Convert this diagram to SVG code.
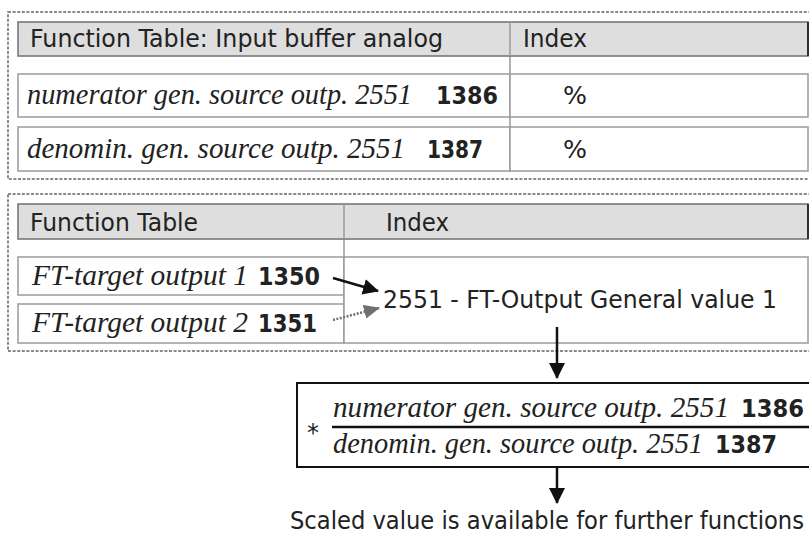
<svg xmlns="http://www.w3.org/2000/svg" width="809" height="537" viewBox="0 0 809 537">
<style>
.dot{fill:none;stroke:#8a8a8a;stroke-width:2;stroke-dasharray:3 1.6}
.hdr{fill:#dedede;stroke:#707070;stroke-width:1.5}
.cell{fill:#fff;stroke:#9a9a9a;stroke-width:1.5}
.div{stroke:#9a9a9a;stroke-width:1.5}
.s{font-family:"DejaVu Sans",Verdana,sans-serif;font-size:24px;fill:#222}
.b{font-family:"DejaVu Sans",Verdana,sans-serif;font-size:24px;font-weight:bold;fill:#222}
.i{font-family:"Liberation Serif","Times New Roman",serif;font-style:italic;font-size:30px;fill:#222}
</style>
<defs>
<marker id="ab" markerUnits="userSpaceOnUse" markerWidth="16" markerHeight="16" refX="15" refY="8" orient="auto"><path d="M0,0 L16,8 L0,16 Z" fill="#111"/></marker>
<marker id="ag" markerUnits="userSpaceOnUse" markerWidth="16" markerHeight="16" refX="15" refY="8" orient="auto"><path d="M0,1 L16,8 L0,15 Z" fill="#707070"/></marker>
</defs>
<g id="group-input-buffer">
<rect class="dot" x="8" y="12" width="820" height="167"/>
<line class="div" x1="510" y1="22" x2="510" y2="171"/>
<rect class="hdr" x="18" y="22" width="790" height="34"/>
<line x1="808" y1="22" x2="808" y2="56" stroke="#111" stroke-width="1.5"/>
<line class="div" x1="510" y1="22" x2="510" y2="56"/>
<text class="s" x="30" y="47" textLength="413" lengthAdjust="spacingAndGlyphs">Function Table: Input buffer analog</text>
<text class="s" x="523" y="47" textLength="64" lengthAdjust="spacingAndGlyphs">Index</text>
</g>
<g id="row-numerator">
<rect class="cell" x="18" y="74" width="492" height="43"/>
<rect class="cell" x="510" y="74" width="298" height="43"/>
<text class="i" x="27" y="104" textLength="385" lengthAdjust="spacingAndGlyphs">numerator gen. source outp. 2551</text>
<text class="b" x="436" y="104" textLength="62" lengthAdjust="spacingAndGlyphs">1386</text>
<text class="s" x="563" y="104" textLength="24" lengthAdjust="spacingAndGlyphs">%</text>
</g>
<g id="row-denominator">
<rect class="cell" x="18" y="127" width="492" height="44"/>
<rect class="cell" x="510" y="127" width="298" height="44"/>
<text class="i" x="27" y="158" textLength="378" lengthAdjust="spacingAndGlyphs">denomin. gen. source outp. 2551</text>
<text class="b" x="427" y="158" textLength="56" lengthAdjust="spacingAndGlyphs">1387</text>
<text class="s" x="563" y="158" textLength="24" lengthAdjust="spacingAndGlyphs">%</text>
</g>
<g id="group-function-table">
<rect class="dot" x="8" y="194" width="820" height="157"/>
<line class="div" x1="344" y1="204" x2="344" y2="343"/>
<rect class="hdr" x="18" y="204" width="790" height="35"/>
<line x1="808" y1="204" x2="808" y2="239" stroke="#111" stroke-width="1.5"/>
<line class="div" x1="344" y1="204" x2="344" y2="239"/>
<text class="s" x="30" y="231" textLength="168" lengthAdjust="spacingAndGlyphs">Function Table</text>
<text class="s" x="386" y="231" textLength="63" lengthAdjust="spacingAndGlyphs">Index</text>
</g>
<g id="ft-target-1">
<rect class="cell" x="18" y="257" width="326" height="38"/>
<text class="i" x="32" y="285" textLength="216" lengthAdjust="spacingAndGlyphs">FT-target output 1</text>
<text class="b" x="258" y="285" textLength="62" lengthAdjust="spacingAndGlyphs">1350</text>
</g>
<g id="ft-target-2">
<rect class="cell" x="18" y="304" width="326" height="39"/>
<text class="i" x="32" y="332" textLength="216" lengthAdjust="spacingAndGlyphs">FT-target output 2</text>
<text class="b" x="258" y="332" textLength="59" lengthAdjust="spacingAndGlyphs">1351</text>
</g>
<g id="ft-output">
<rect class="cell" x="344" y="257" width="464" height="86"/>
<text class="s" x="383" y="308" textLength="394" lengthAdjust="spacingAndGlyphs">2551 - FT-Output General value 1</text>
</g>
<g id="scaling-box">
<rect x="297" y="383" width="530" height="84" fill="#fff" stroke="#111" stroke-width="2"/>
<line x1="332" y1="427" x2="830" y2="427" stroke="#111" stroke-width="2.5"/>
<text class="s" x="307" y="441" font-size="18">*</text>
<text class="i" x="333" y="417" textLength="396" lengthAdjust="spacingAndGlyphs">numerator gen. source outp. 2551</text>
<text class="b" x="741" y="417" textLength="63" lengthAdjust="spacingAndGlyphs">1386</text>
<text class="i" x="333" y="453" textLength="370" lengthAdjust="spacingAndGlyphs">denomin. gen. source outp. 2551</text>
<text class="b" x="715" y="453" textLength="62" lengthAdjust="spacingAndGlyphs">1387</text>
</g>
<g id="result">
<text class="s" x="290" y="529" textLength="514" lengthAdjust="spacingAndGlyphs">Scaled value is available for further functions</text>
</g>
<g id="connectors">
<line x1="333" y1="278" x2="378" y2="291" stroke="#111" stroke-width="2.5" marker-end="url(#ab)"/>
<line x1="333" y1="320" x2="379" y2="308" stroke="#707070" stroke-width="2.5" stroke-dasharray="2 1.5" marker-end="url(#ag)"/>
<line x1="557" y1="327" x2="557" y2="378" stroke="#111" stroke-width="2.5" marker-end="url(#ab)"/>
<line x1="557" y1="467" x2="557" y2="503" stroke="#111" stroke-width="2.5" marker-end="url(#ab)"/>
</g>
</svg>
